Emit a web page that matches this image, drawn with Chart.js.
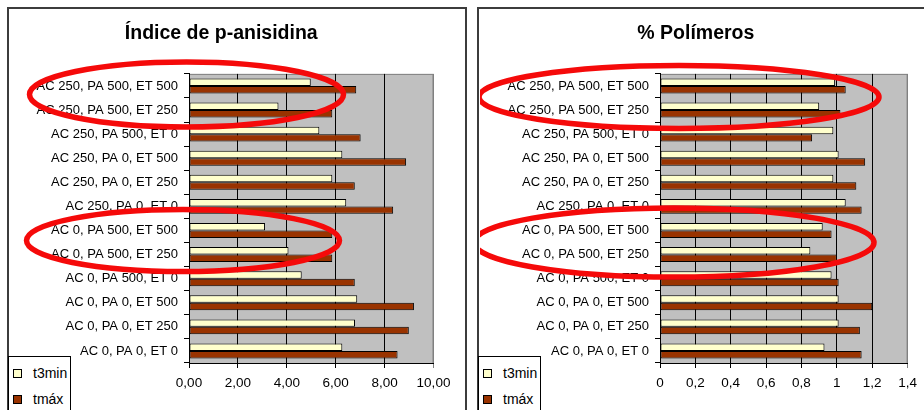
<!DOCTYPE html>
<html>
<head>
<meta charset="utf-8">
<script src="https://cdn.jsdelivr.net/npm/chart.js@4/dist/chart.umd.min.js"></script>
<style>
  html, body { margin: 0; padding: 0; background: #fff; width: 924px; height: 410px; overflow: hidden; }
  .frame { position: absolute; border: 2px solid #3c3c3c; box-sizing: border-box; height: 440px; }
  canvas { position: absolute; }
  .legend { position: absolute; border: 1px solid #000; background: #fff; width: 63px; height: 70px;
            font-family: "Liberation Sans", Arial, sans-serif; font-size: 14px; color: #000; box-sizing: border-box; }
  .legend .item { position: absolute; left: 4px; height: 16px; line-height: 16px; white-space: nowrap; }
  .legend .sw { display: inline-block; width: 7px; height: 7px; border: 1px solid #000; margin-right: 11px; vertical-align: 0px; }
</style>
</head>
<body>
<div class="frame" style="left:7px; top:7px; width:460px;"></div>
<div class="frame" style="left:477px; top:7px; width:470px;"></div>
<canvas id="anis" width="457" height="401" style="left:9px; top:9px;"></canvas>
<canvas id="pol" width="444" height="401" style="left:480px; top:9px;"></canvas>
<div class="legend" id="legAnis" style="left:8px; top:356px;"></div>
<div class="legend" id="legPol" style="left:478px; top:356px;"></div>
<script>
const categories = [
  "AC 250, PA 500, ET 500",
  "AC 250, PA 500, ET 250",
  "AC 250, PA 500, ET 0",
  "AC 250, PA 0, ET 500",
  "AC 250, PA 0, ET 250",
  "AC 250, PA 0, ET 0",
  "AC 0, PA 500, ET 500",
  "AC 0, PA 500, ET 250",
  "AC 0, PA 500, ET 0",
  "AC 0, PA 0, ET 500",
  "AC 0, PA 0, ET 250",
  "AC 0, PA 0, ET 0"
];
const seriesNames = ["t3min", "tmáx"];

// Índice de p-anisidina
const anisT3min = [4.98, 3.66, 5.33, 6.27, 5.86, 6.43, 3.11, 4.07, 4.61, 6.88, 6.79, 6.27];
const anisTmax = [6.84, 5.86, 7.02, 8.88, 6.78, 8.35, 5.86, 5.86, 6.78, 9.20, 8.99, 8.53];
const anisTicks = ["0,00", "2,00", "4,00", "6,00", "8,00", "10,00"];

// % Polímeros
const polT3min = [0.99, 0.90, 0.98, 1.01, 0.98, 1.05, 0.92, 0.85, 0.97, 1.01, 1.01, 0.93];
const polTmax = [1.05, 1.02, 0.86, 1.16, 1.11, 1.14, 0.97, 1.00, 1.01, 1.20, 1.13, 1.14];
const polTicks = ["0", "0,2", "0,4", "0,6", "0,8", "1", "1,2", "1,4"];

const FONT = "'Liberation Sans', Arial, sans-serif";
const colT3 = "#FFFFCC";
const colTmax = "#993300";

// plot area fill + red highlight ellipses
const plotBg = {
  id: "plotBg",
  beforeDraw(chart) {
    const a = chart.chartArea, ctx = chart.ctx;
    ctx.save();
    ctx.fillStyle = "#C0C0C0";
    ctx.fillRect(a.left, a.top, a.right - a.left, a.bottom - a.top);
    ctx.strokeStyle = "#808080";
    ctx.lineWidth = 1;
    ctx.beginPath();
    ctx.moveTo(a.left, a.top + 0.5);
    ctx.lineTo(a.right - 0.5, a.top + 0.5);
    ctx.lineTo(a.right - 0.5, a.bottom);
    ctx.stroke();
    ctx.restore();
  },
  afterDraw(chart, args, opts) {
    const y = chart.scales.y, a = chart.chartArea, ctx = chart.ctx;
    ctx.save();
    ctx.strokeStyle = "#F50A0A";
    ctx.lineWidth = 5.5;
    (opts.rings || []).forEach(r => {
      const cy = (y.getPixelForValue(r.from) + y.getPixelForValue(r.from + 1)) / 2 + r.dy;
      ctx.beginPath();
      ctx.ellipse(a.left + r.dx, cy, r.rx, r.ry, 0, 0, Math.PI * 2);
      ctx.stroke();
    });
    ctx.restore();
  }
};

function makeChart(id, title, t3, tmax, max, step, ticks, padRight, rings) {
  return new Chart(document.getElementById(id), {
    type: "bar",
    data: {
      labels: categories,
      datasets: [
        { label: seriesNames[0], data: t3, backgroundColor: colT3, borderColor: "#000", borderWidth: 1, borderSkipped: false },
        { label: seriesNames[1], data: tmax, backgroundColor: colTmax, borderColor: "#000", borderWidth: 1, borderSkipped: false }
      ]
    },
    options: {
      indexAxis: "y",
      responsive: false,
      animation: false,
      devicePixelRatio: 1,
      categoryPercentage: 0.62,
      barPercentage: 1,
      layout: { padding: { left: 0, right: padRight, top: 0, bottom: 19 } },
      scales: {
        x: {
          min: 0, max: max,
          ticks: {
            stepSize: step, color: "#000", padding: 7,
            font: { family: FONT, size: 13.5 },
            callback: (v, i) => ticks[i]
          },
          grid: {
            color: c => (c.index === ticks.length - 1 ? "#808080" : "#000"),
            tickLength: 5, lineWidth: 1
          },
          border: { color: "#000" },
          afterFit: s => { s.height = 28; }
        },
        y: {
          ticks: { color: "#000", padding: 6, font: { family: FONT, size: 13 } },
          grid: { offset: true, drawOnChartArea: false, tickLength: 5, color: "#000" },
          border: { color: "#000" },
          afterFit: s => { s.width = 180; }
        }
      },
      plugins: {
        legend: { display: false },
        tooltip: { enabled: false },
        title: {
          display: true, text: title, color: "#000",
          font: { family: FONT, size: 19.5, weight: "bold" },
          padding: { top: 13, bottom: 28.5 }
        },
        plotBg: { rings: rings }
      }
    },
    plugins: [plotBg]
  });
}

const anisChart = makeChart("anis", "Índice de p-anisidina", anisT3min, anisTmax, 10, 2, anisTicks, 32.5, [
  { from: 0, dx: -2.5, dy: -3.5, rx: 157, ry: 32.5 },
  { from: 6, dx: -6, dy: -2, rx: 156.5, ry: 31 }
]);
const polChart = makeChart("pol", "% Polímeros", polT3min, polTmax, 1.4, 0.2, polTicks, 12.3, [
  { from: 0, dx: 19, dy: -1, rx: 200, ry: 31.5 },
  { from: 6, dx: 14, dy: 0, rx: 200, ry: 34.5 }
]);

function buildLegend(chart, id) {
  const box = document.getElementById(id);
  chart.data.datasets.forEach((ds, i) => {
    const item = document.createElement("div");
    item.className = "item";
    item.style.top = (8 + i * 26) + "px";
    const sw = document.createElement("span");
    sw.className = "sw";
    sw.style.background = ds.backgroundColor;
    item.appendChild(sw);
    item.appendChild(document.createTextNode(ds.label));
    box.appendChild(item);
  });
}
buildLegend(anisChart, "legAnis");
buildLegend(polChart, "legPol");
</script>
</body>
</html>
